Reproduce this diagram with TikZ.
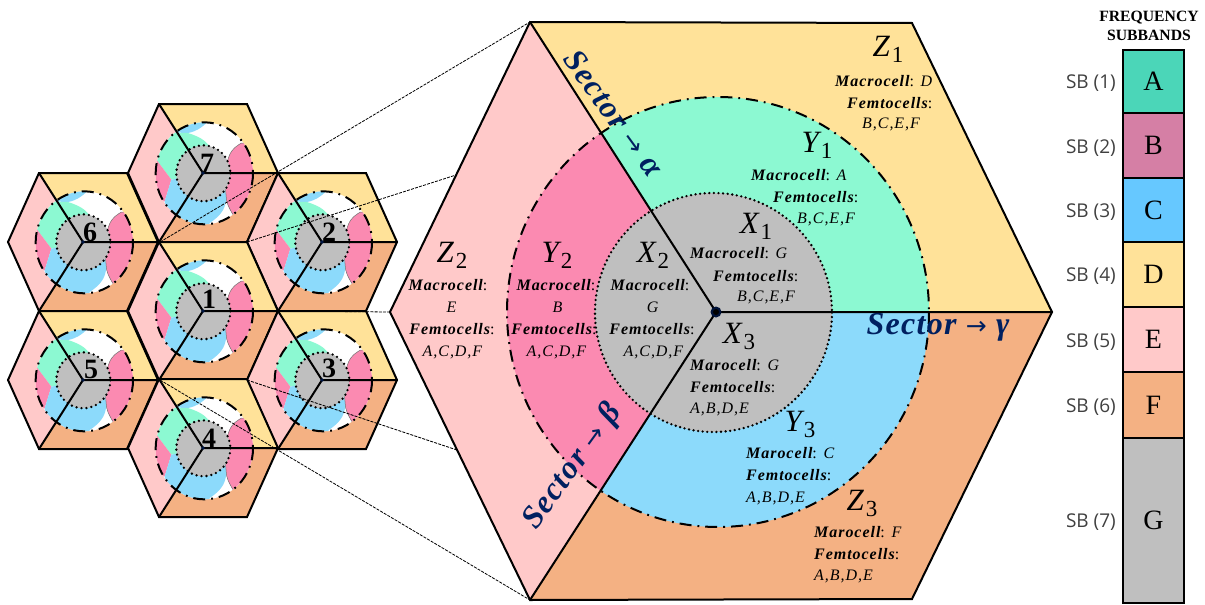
\documentclass[tikz,border=0pt]{standalone}
\usepackage{fontspec}
\setmainfont{Liberation Serif}
\newfontfamily\cellfont[LetterSpace=6]{Liberation Serif}
\newfontfamily\secfont[LetterSpace=4]{Liberation Serif}
\newfontfamily\sbfont{Open Sans}
\newfontfamily\arrowfont{DejaVu Sans}
\definecolor{yz}{HTML}{FFE299}
\definecolor{pz}{HTML}{FFC9C9}
\definecolor{oz}{HTML}{F4B183}
\definecolor{gy}{HTML}{8CF9D2}
\definecolor{py}{HTML}{FB8AB1}
\definecolor{by}{HTML}{8CDAFB}
\definecolor{gx}{HTML}{BFBFBF}
\definecolor{bandA}{HTML}{4BD6B8}
\definecolor{bandB}{HTML}{D57FA5}
\definecolor{bandC}{HTML}{66C8FF}
\definecolor{navy}{HTML}{002060}
\newcommand\kw[1]{{\bfseries\itshape #1}}
\newcommand\zlab[2]{{\fontsize{31}{31}\selectfont\itshape #1\kern2pt\raisebox{-6pt}{\upshape\fontsize{23}{23}\selectfont #2}}}
\newcommand\sectxt[1]{{\fontsize{32}{32}\selectfont\bfseries\itshape\color{navy}\secfont Sector {\arrowfont\mdseries\upshape\fontsize{25}{25}\selectfont\char"2192} #1}}
\newcommand\bl[1]{\raisebox{-1.5pt}{#1}}
\tikzset{
  x=1pt,y=-1pt,
  txt/.style={anchor=west,inner sep=0pt,font={\cellfont\fontsize{16}{17}\selectfont}},
  ctxt/.style={anchor=center,inner sep=0pt,font={\cellfont\fontsize{16}{17}\selectfont}},
  zname/.style={anchor=center,inner sep=0pt},
  edge/.style={line width=2pt,black,line join=miter},
  outerdash/.style={line width=2pt,dash pattern=on 12pt off 6pt on 1.8pt off 6pt},
  innerdot/.style={line width=2.6pt,line cap=round,dash pattern=on 0pt off 4.6pt},
  zoomline/.style={line width=.8pt,black,dash pattern=on 3pt off 1.2pt},
  band/.style={draw=black,line width=2pt,minimum width=61pt,anchor=north west,inner sep=0pt,outer sep=0pt,font=\fontsize{28}{28}\selectfont},
  sblab/.style={anchor=east,inner sep=0pt,font={\sbfont\fontsize{19}{21}\selectfont\color{black!75}}},
  cellno/.style={anchor=center,inner sep=0pt,font=\bfseries},
}
\newcommand\smallcell[5]{% x y number labelx labely
\begin{scope}[shift={(#1,#2)}]
  \fill[yz] (0,0)--(-44,-69)--(44,-69)--(75,0)--cycle;
  \fill[pz] (0,0)--(-44,-69)--(-75,0)--(-44,69)--cycle;
  \fill[oz] (0,0)--(75,0)--(44,69)--(-44,69)--cycle;
  \begin{scope}[x=.33333pt,y=-.33333pt]
    \begin{scope}
      \clip (4,1) ellipse [x radius=146,y radius=153];
      \fill[white] (-170,-170) rectangle (170,170);
      \fill[by] (-100,-122)--(-45,-120) .. controls (-20,-125) and (-5,-135) .. (12,-152) -- (-20,-170) -- (-100,-170) -- cycle;
      \fill[gy] (-170,-122)--(-45,-120) .. controls (-15,-110) and (10,-100) .. (25,-70) -- (0,0) -- (-95,20) -- (-140,-40) -- (-170,-100) -- cycle;
      \fill[py] (-140,-40)--(-95,20)--(-115,85)--(-170,85)--(-170,-40)--cycle;
      \fill[by] (-95,20)--(-115,85)--(-100,170)--(20,170)--(20,150) .. controls (50,130) and (68,110) .. (70,75) -- (60,0)--(0,0)--cycle;
      \filldraw[fill=py,draw=black!55,line width=.5pt] (90,125) .. controls (75,100) and (70,85) .. (70,75) .. controls (65,30) and (65,-20) .. (80,-55) .. controls (90,-75) and (100,-80) .. (115,-90) -- (170,-90) -- (170,125) -- cycle;
    \end{scope}
    \draw[outerdash] (4,1) ellipse [x radius=146,y radius=153];
    \fill[gx] (1,1) ellipse [x radius=81,y radius=84];
    \draw[innerdot,dash pattern=on 0pt off 5pt] (1,1) ellipse [x radius=81,y radius=84];
  \end{scope}
  \draw[edge] (0,0)--(-44,-69) (0,0)--(75,0) (0,0)--(-44,69);
  \draw[edge] (-44,-69)--(44,-69)--(75,0)--(44,69)--(-44,69)--(-75,0)--cycle;
  \fill[navy!70!black] (0,0) circle (1.8);
\end{scope}
\node[cellno] (num#3) at (#4,#5) {\fontsize{28}{28}\selectfont #3};
}
\begin{document}
\begin{tikzpicture}
\useasboundingbox (0,0) rectangle (1205,605);
% neighbouring cells
\smallcell{203}{173}{7}{207}{163}
\smallcell{83}{242}{6}{90}{232}
\smallcell{322}{242}{2}{329}{232}
\smallcell{203}{311}{1}{209}{299}
\smallcell{83}{380}{5}{91}{369}
\smallcell{322}{380}{3}{329}{368}
\smallcell{203}{448}{4}{209}{438}
% big hexagon corners
\coordinate (C) at (716,312);
\coordinate (TL) at (530,22);
\coordinate (TR) at (912,23);
\coordinate (R) at (1052,312);
\coordinate (BR) at (912,599);
\coordinate (BL) at (530,600);
\coordinate (L) at (390,312);
\fill[yz] (C)--(TL)--(TR)--(R)--cycle;
\fill[pz] (C)--(TL)--(L)--(BL)--cycle;
\fill[oz] (C)--(R)--(BR)--(BL)--cycle;
\begin{scope}
  \clip (C)--(TL)--(TR)--(R)--cycle;
  \fill[gy] (718,312) ellipse [x radius=211,y radius=215];
\end{scope}
\begin{scope}
  \clip (C)--(TL)--(L)--(BL)--cycle;
  \fill[py] (718,312) ellipse [x radius=211,y radius=215];
\end{scope}
\begin{scope}
  \clip (C)--(R)--(BR)--(BL)--cycle;
  \fill[by] (718,312) ellipse [x radius=211,y radius=215];
\end{scope}
\draw[outerdash] (718,312) ellipse [x radius=211,y radius=215];
\fill[gx] (713.5,312.5) ellipse [x radius=118.5,y radius=119.5];
\draw[innerdot] (713.5,312.5) ellipse [x radius=118.5,y radius=119.5];
\draw[edge] (C)--(TL) (C)--(R) (C)--(BL);
\draw[edge] (TL)--(TR)--(R)--(BR)--(BL)--(L)--cycle;
\fill[navy!60!black] (C) circle (5.5);
\fill[black] (C) circle (3);
% zoom lines
\coordinate (a1) at (160,242);
\coordinate (a2) at (247,242);
\coordinate (a3) at (278,311);
\coordinate (a4) at (247,380);
\coordinate (a5) at (160,380);
\coordinate (b2) at (456,175);
\coordinate (b4) at (457,450);
\draw[zoomline] (a1)--(TL);
\draw[zoomline] (a2)--(b2);
\draw[zoomline] (a3)--(L);
\draw[zoomline] (a4)--(b4);
\draw[zoomline] (a5)--(BL);
% zone labels
\node[zname] (z1) at (888,49) {\zlab{Z}{1}};
\node[txt] (z1a) at (835,81) {\kw{Macrocell}: \textit{D}};
\node[txt] (z1b) at (847,103) {\kw{Femtocells}:};
\node[txt] (z1c) at (862,124) {\textit{B,C,E,F}};
\node[zname] (y1) at (817,145) {\zlab{Y}{1}};
\node[txt] (y1a) at (751,175) {\kw{Macrocell}: \textit{A}};
\node[txt] (y1b) at (773,197) {\kw{Femtocells}:};
\node[txt] (y1c) at (797,219) {\textit{B,C,E,F}};
\node[zname] (x1) at (756,226) {\zlab{X}{1}};
\node[txt] (x1a) at (690,253) {\kw{Macrocell}: \textit{G}};
\node[txt] (x1b) at (713,276) {\kw{Femtocells}:};
\node[txt] (x1c) at (737,297) {\textit{B,C,E,F}};
\node[zname] (x2) at (653,255) {\zlab{X}{2}};
\node[ctxt] (x2a) at (650,285) {\kw{Macrocell}:};
\node[ctxt] (x2b) at (653,307) {\textit{G}};
\node[ctxt] (x2c) at (652,329) {\kw{Femtocells}:};
\node[ctxt] (x2d) at (654,352) {\textit{A,C,D,F}};
\node[zname] (y2) at (557,255) {\zlab{Y}{2}};
\node[ctxt] (y2a) at (556,285) {\kw{Macrocell}:};
\node[ctxt] (y2b) at (558,307) {\textit{B}};
\node[ctxt] (y2c) at (554,329) {\kw{Femtocells}:};
\node[ctxt] (y2d) at (557,352) {\textit{A,C,D,F}};
\node[zname] (z2) at (452,255) {\zlab{Z}{2}};
\node[ctxt] (z2a) at (448,285) {\kw{Macrocell}:};
\node[ctxt] (z2b) at (452,307) {\textit{E}};
\node[ctxt] (z2c) at (452,329) {\kw{Femtocells}:};
\node[ctxt] (z2d) at (453,352) {\textit{A,C,D,F}};
\node[zname] (x3) at (739,336) {\zlab{X}{3}};
\node[txt] (x3a) at (690,365) {\kw{Marocell}: \textit{G}};
\node[txt] (x3b) at (690,387) {\kw{Femtocells}:};
\node[txt] (x3c) at (690,409) {\textit{A,B,D,E}};
\node[zname] (y3) at (800,424) {\zlab{Y}{3}};
\node[txt] (y3a) at (746,453) {\kw{Marocell}: \textit{C}};
\node[txt] (y3b) at (746,475) {\kw{Femtocells}:};
\node[txt] (y3c) at (746,498) {\textit{A,B,D,E}};
\node[zname] (z3) at (862,503) {\zlab{Z}{3}};
\node[txt] (z3a) at (814,532) {\kw{Marocell}: \textit{F}};
\node[txt] (z3b) at (814,554) {\kw{Femtocells}:};
\node[txt] (z3c) at (814,576) {\textit{A,B,D,E}};
% sector labels
\node[zname,rotate=-54] (sa) at (614,113) {\sectxt{α}};
\node[zname,rotate=54] (sb) at (573,467) {\sectxt{β}};
\node[zname] (sg) at (938,327) {\sectxt{γ}};
% frequency bands
\node[anchor=center,inner sep=0pt,align=center,font=\bfseries\fontsize{15.7}{19}\selectfont] (title) at (1149,26) {FREQUENCY\\SUBBANDS};
\node[band,fill=bandA,minimum height=63pt] (bA) at (1123,50) {\bl{A}};
\node[band,fill=bandB,minimum height=65pt] (bB) at (1123,113) {\bl{B}};
\node[band,fill=bandC,minimum height=64pt] (bC) at (1123,178) {\bl{C}};
\node[band,fill=yz,minimum height=65pt] (bD) at (1123,242) {\bl{D}};
\node[band,fill=pz,minimum height=65pt] (bE) at (1123,307) {\bl{E}};
\node[band,fill=oz,minimum height=66pt] (bF) at (1123,372) {\bl{F}};
\node[band,fill=gx,minimum height=165pt] (bG) at (1123,438) {\bl{G}};
\node[sblab] (s1) at (1116,83) {SB (1)};
\node[sblab] (s2) at (1116,148) {SB (2)};
\node[sblab] (s3) at (1116,212) {SB (3)};
\node[sblab] (s4) at (1116,276) {SB (4)};
\node[sblab] (s5) at (1116,342) {SB (5)};
\node[sblab] (s6) at (1116,407) {SB (6)};
\node[sblab] (s7) at (1116,522) {SB (7)};
\end{tikzpicture}
\end{document}
